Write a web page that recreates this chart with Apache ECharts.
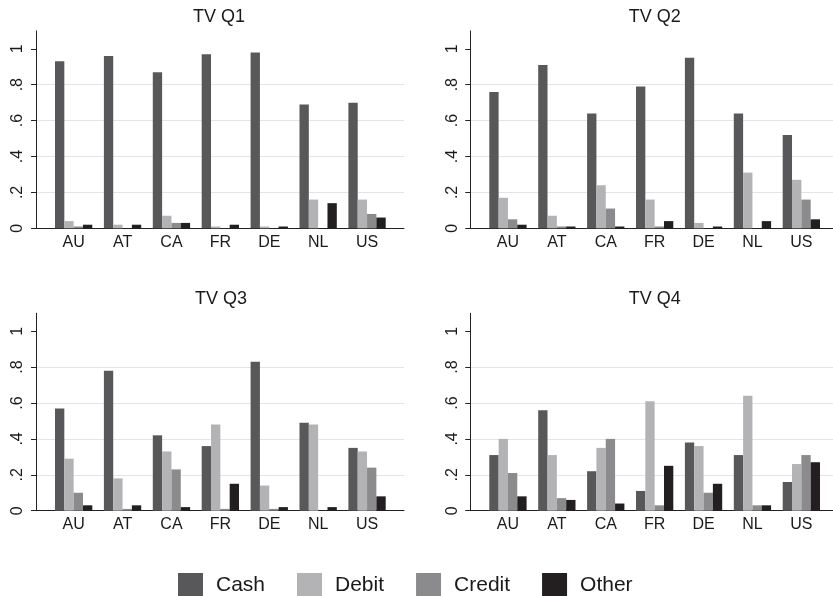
<!DOCTYPE html>
<html>
<head>
<meta charset="utf-8">
<script src="https://cdn.jsdelivr.net/npm/echarts@6/dist/echarts.min.js"></script>
<style>
  html, body { margin: 0; padding: 0; background: #ffffff; }
  #chart { width: 833px; height: 596px; }
</style>
</head>
<body>
<div id="chart"></div>
<script>
// Payment instrument shares by country, one panel per quarter
const countries = ['AU', 'AT', 'CA', 'FR', 'DE', 'NL', 'US'];
const panelTitles = ['TV Q1', 'TV Q2', 'TV Q3', 'TV Q4'];
const seriesNames = ['Cash', 'Debit', 'Credit', 'Other'];
const yTicks = [0, 0.2, 0.4, 0.6, 0.8, 1];

const cashQ1   = [0.93, 0.96, 0.87, 0.97, 0.98, 0.69, 0.70];
const debitQ1  = [0.04, 0.02, 0.07, 0.01, 0.01, 0.16, 0.16];
const creditQ1 = [0.01, 0.00, 0.03, 0.00, 0.00, 0.00, 0.08];
const otherQ1  = [0.02, 0.02, 0.03, 0.02, 0.01, 0.14, 0.06];

const cashQ2   = [0.76, 0.91, 0.64, 0.79, 0.95, 0.64, 0.52];
const debitQ2  = [0.17, 0.07, 0.24, 0.16, 0.03, 0.31, 0.27];
const creditQ2 = [0.05, 0.01, 0.11, 0.01, 0.00, 0.00, 0.16];
const otherQ2  = [0.02, 0.01, 0.01, 0.04, 0.01, 0.04, 0.05];

const cashQ3   = [0.57, 0.78, 0.42, 0.36, 0.83, 0.49, 0.35];
const debitQ3  = [0.29, 0.18, 0.33, 0.48, 0.14, 0.48, 0.33];
const creditQ3 = [0.10, 0.01, 0.23, 0.01, 0.01, 0.00, 0.24];
const otherQ3  = [0.03, 0.03, 0.02, 0.15, 0.02, 0.02, 0.08];

const cashQ4   = [0.31, 0.56, 0.22, 0.11, 0.38, 0.31, 0.16];
const debitQ4  = [0.40, 0.31, 0.35, 0.61, 0.36, 0.64, 0.26];
const creditQ4 = [0.21, 0.07, 0.40, 0.03, 0.10, 0.03, 0.31];
const otherQ4  = [0.08, 0.06, 0.04, 0.25, 0.15, 0.03, 0.27];

const quarterData = [
  [cashQ1, debitQ1, creditQ1, otherQ1],
  [cashQ2, debitQ2, creditQ2, otherQ2],
  [cashQ3, debitQ3, creditQ3, otherQ3],
  [cashQ4, debitQ4, creditQ4, otherQ4]
];

const colors = ['#58585a', '#b3b3b5', '#8b8b8d', '#231f20'];
const FONT = '"Liberation Sans", Arial, Helvetica, sans-serif';
const TEXT = '#1a1a1a';

// panel frames: y-axis position and baseline
const frames = [
  { axisX: 36,    zeroY: 228.3, titleX: 219 },
  { axisX: 470.3, zeroY: 228.3, titleX: 654.7 },
  { axisX: 36,    zeroY: 510.7, titleX: 221 },
  { axisX: 470.3, zeroY: 510.7, titleX: 654.7 }
];
const Y_MAX = 1.1;
const UNIT = 179.5;            // pixels per 1.0
const PLOT_H = UNIT * Y_MAX;
const FRAME_W = 368;           // full width of gridlines / axis line
const BAND_PAD = 13.2;         // gap before the first category band
const BANDS_W = 342.3;         // 7 category bands

function tickLabel(v) {
  if (v === 0) return '0';
  if (Math.abs(v - 1) < 1e-9) return '1';
  return v.toFixed(1).replace(/^0/, '');
}

const grids = [], xAxes = [], yAxes = [], series = [], titles = [];

frames.forEach((f, p) => {
  const top = f.zeroY - PLOT_H;
  // frame grid: gridlines, axis lines and y labels
  grids.push({ left: f.axisX, top: top, width: FRAME_W, height: PLOT_H });
  // bar grid: category bands
  grids.push({ left: f.axisX + BAND_PAD, top: top, width: BANDS_W, height: PLOT_H });

  const gFrame = p * 2, gBars = p * 2 + 1;

  xAxes.push({
    gridIndex: gFrame, type: 'value', min: 0, max: 1,
    axisLine: { show: true, onZero: false, lineStyle: { color: '#222', width: 1 } },
    axisTick: { show: false }, axisLabel: { show: false }, splitLine: { show: false }
  });
  yAxes.push({
    gridIndex: gFrame, type: 'value', min: 0, max: Y_MAX,
    axisLine: { show: true, lineStyle: { color: '#222', width: 1 } },
    axisTick: { show: true, length: 5, customValues: yTicks, lineStyle: { color: '#222' } },
    axisLabel: {
      customValues: yTicks, rotate: 90, margin: 10,
      fontFamily: FONT, fontSize: 16, color: TEXT, formatter: tickLabel
    },
    splitLine: { show: true, showMinLine: false, showMaxLine: false, lineStyle: { color: '#e4e4e4', width: 1 } }
  });

  xAxes.push({
    gridIndex: gBars, type: 'category', data: countries,
    axisLine: { show: false }, axisTick: { show: false },
    axisLabel: { margin: 6, fontFamily: FONT, fontSize: 16, color: TEXT },
    splitLine: { show: false }
  });
  yAxes.push({
    gridIndex: gBars, type: 'value', min: 0, max: Y_MAX, show: false,
    splitLine: { show: false }
  });

  quarterData[p].forEach((vals, s) => {
    series.push({
      type: 'bar', name: seriesNames[s],
      xAxisIndex: gBars, yAxisIndex: gBars,
      data: vals,
      barGap: '0%', barCategoryGap: '23.7%',
      itemStyle: { color: colors[s] },
      emphasis: { disabled: true },
      animation: false
    });
  });

  titles.push({
    text: panelTitles[p], left: f.titleX, top: f.zeroY - 220.5,
    textAlign: 'center', padding: 0,
    textStyle: { fontFamily: FONT, fontSize: 18, fontWeight: 'normal', color: TEXT }
  });
});

const chart = echarts.init(document.getElementById('chart'), null, { renderer: 'canvas' });
chart.setOption({
  backgroundColor: '#ffffff',
  animation: false,
  title: titles,
  legend: {
    data: seriesNames, left: 178, top: 573, padding: 0,
    icon: 'rect', itemWidth: 25, itemHeight: 25, itemGap: 32,
    selectedMode: false,
    textStyle: { fontFamily: FONT, fontSize: 21, color: TEXT, padding: [0, 0, 0, 8] }
  },
  grid: grids,
  xAxis: xAxes,
  yAxis: yAxes,
  series: series
});
</script>
</body>
</html>
